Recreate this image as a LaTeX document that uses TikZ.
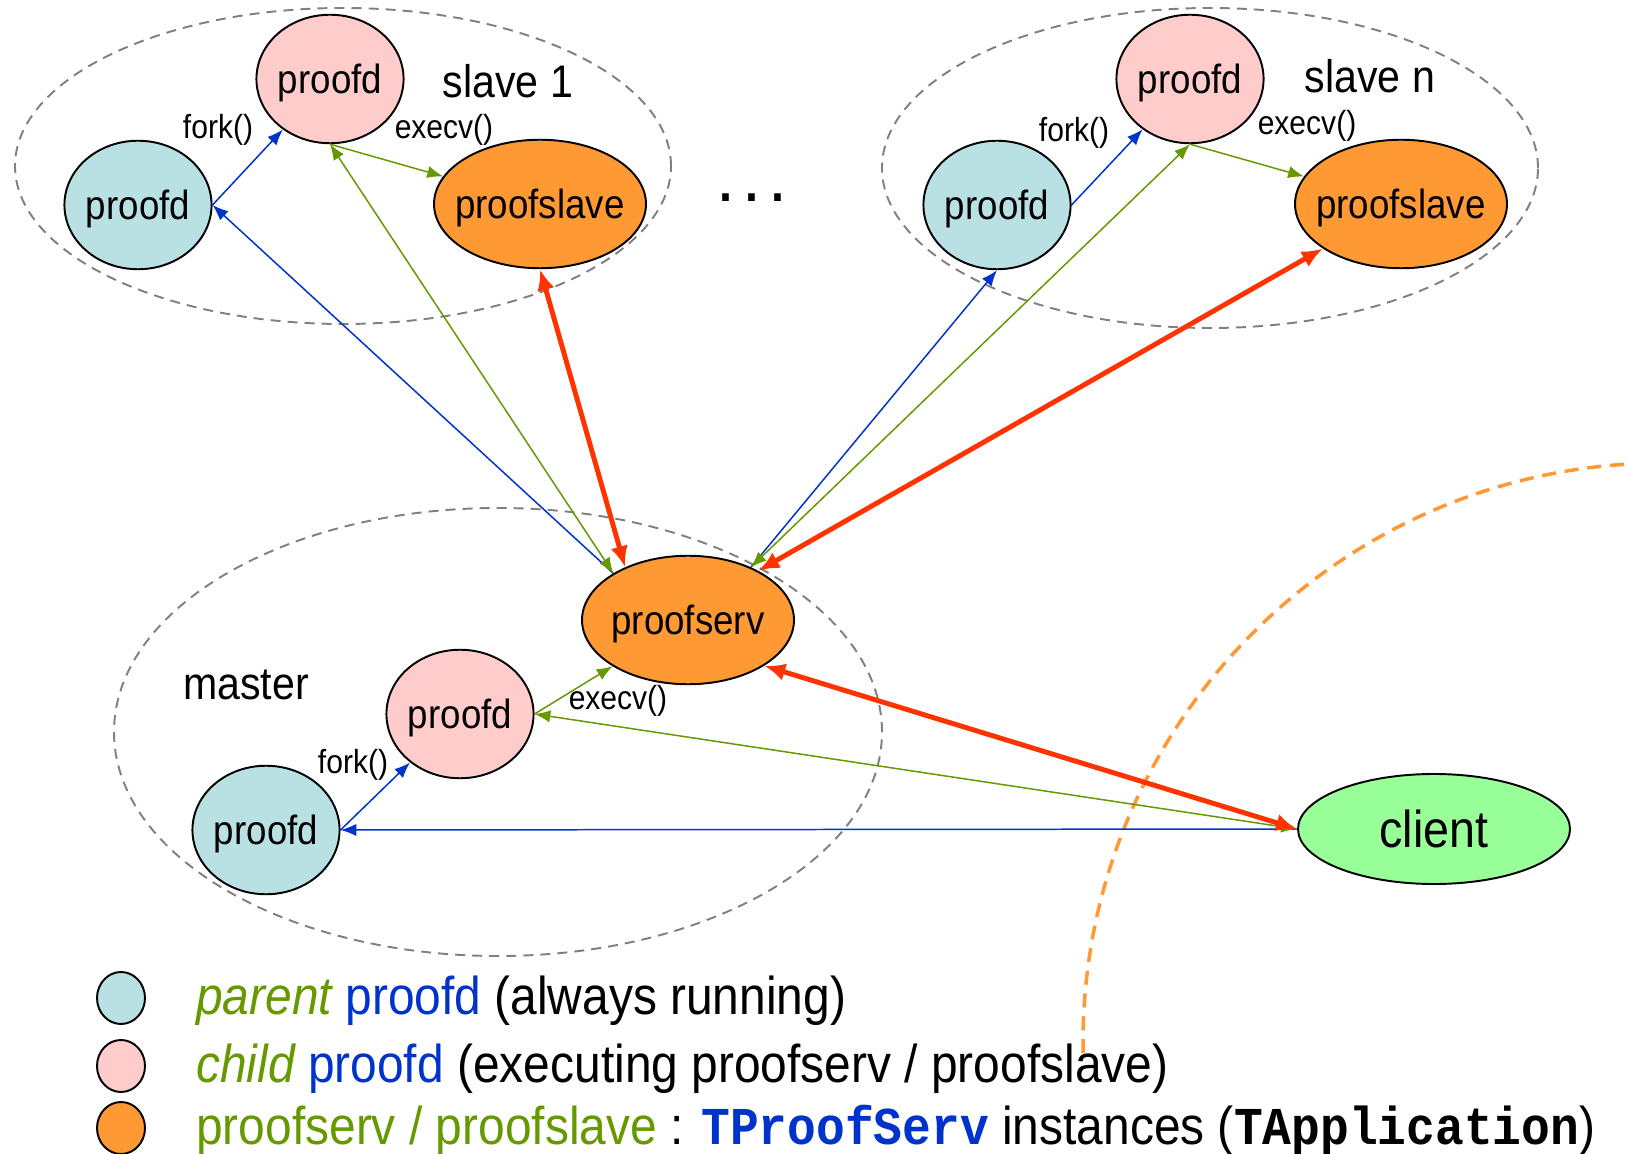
\documentclass[tikz,border=0pt]{standalone}
\usepackage{fontspec}
\setmainfont{Liberation Sans}[FakeStretch=0.9]
\setmonofont{Liberation Mono}[FakeStretch=0.9]
\usetikzlibrary{shapes.geometric, arrows.meta}

\definecolor{parentcol}{HTML}{B9E0E3}
\definecolor{childcol}{HTML}{FFCCCC}
\definecolor{servcol}{HTML}{FF9933}
\definecolor{clientcol}{HTML}{99FF99}
\definecolor{forkblue}{HTML}{0033CC}
\definecolor{execgreen}{HTML}{669900}
\definecolor{linkred}{HTML}{FF3300}

\begin{document}
\begin{tikzpicture}[
  proc/.style={ellipse, draw=black, line width=1.1pt, inner sep=0pt,
    minimum width=2.9cm, minimum height=2.57cm, text depth=0pt,
    font=\fontsize{23.2}{26}\selectfont},
  parentproc/.style={proc, fill=parentcol},
  childproc/.style={proc, fill=childcol},
  servproc/.style={proc, fill=servcol, inner xsep=-6pt, minimum width=4.24cm},
  group/.style={draw=gray, line width=1.1pt, dash pattern=on 5.7pt off 4pt},
  callname/.style={font=\fontsize{19}{22}\selectfont},
  tagname/.style={font=\fontsize{26}{30}\selectfont},
  forkline/.style={forkblue, line width=0.85pt, -{Latex[length=9pt,width=7pt]}},
  execline/.style={execgreen, line width=0.85pt, -{Latex[length=9pt,width=7pt]}},
  execboth/.style={execgreen, line width=0.85pt, {Latex[length=9pt,width=7pt]}-{Latex[length=9pt,width=7pt]}},
  redline/.style={linkred, line width=2.8pt, {Latex[length=12pt,width=10pt]}-{Latex[length=12pt,width=10pt]}},
  legtext/.style={anchor=west, font=\fontsize{30.3}{34}\selectfont},
  legdot/.style={ellipse, draw=black, line width=1.1pt, minimum width=0.96cm, minimum height=1.04cm}
]
\useasboundingbox (0,0) rectangle (32.54,23.06);

% ======================
% Client boundary
% ======================
\draw[servcol, line width=2pt, dash pattern=on 8pt off 5pt]
  (33.26,2.20) ++(181:11.6) arc (181:93.6:11.6);

% ======================
% Groups
% ======================
\draw[group] (6.86,19.74) ellipse [x radius=6.56, y radius=3.16];
\draw[group] (24.20,19.70) ellipse [x radius=6.56, y radius=3.20];
\draw[group] (9.96,8.42) ellipse [x radius=7.68, y radius=4.48];

% ======================
% Slave 1
% ======================
\node[childproc] (s1child) at (6.60,21.48) {proofd};
\node[parentproc] (s1parent) at (2.76,18.96) {proofd};
\node[servproc] (s1slave) at (10.80,18.98) {proofslave};
\node[tagname] (s1tag) at (10.16,21.44) {slave 1};
\node[callname] (s1fork) at (4.36,20.46) {fork()};
\node[callname] (s1exec) at (8.88,20.46) {execv()};

% ======================
% Slave n
% ======================
\node[childproc] (s2child) at (23.80,21.48) {proofd};
\node[parentproc] (s2parent) at (19.94,18.96) {proofd};
\node[servproc] (s2slave) at (28.02,18.98) {proofslave};
\node[tagname] (s2tag) at (27.40,21.54) {slave n};
\node[callname] (s2fork) at (21.48,20.40) {fork()};
\node[callname] (s2exec) at (26.14,20.54) {execv()};

\node[font=\fontsize{29.5}{32}\selectfont\bfseries] (dots) at (15.04,19.10) {.\ .\ .};

% ======================
% Master
% ======================
\node[servproc] (mserv) at (13.76,10.66) {proofserv};
\node[childproc] (mchild) at (9.20,8.78) {proofd};
\node[parentproc] (mparent) at (5.32,6.46) {proofd};
\node[tagname] (mtag) at (4.92,9.36) {master};
\node[callname] (mexec) at (12.36,9.04) {execv()};
\node[callname] (mfork) at (7.06,7.76) {fork()};

\node[proc, fill=clientcol, minimum width=5.44cm, minimum height=2.2cm,
  font=\fontsize{29.5}{32}\selectfont] (client) at (28.68,6.48) {client};

% ======================
% Inside the groups
% ======================
\draw[forkline] (s1parent.east) -- (s1child);
\draw[execline] (s1child.south) -- (s1slave);
\draw[forkline] (s2parent.east) -- (s2child);
\draw[execline] (s2child.south) -- (s2slave);
\draw[forkline] (mparent.east) -- (mchild);
\draw[execline] (mchild.east) -- (mserv);

% ======================
% Master to slaves
% ======================
\draw[forkline] (mserv.148) -- (s1parent.east);
\draw[execboth] (mserv.148) -- (s1child.south);
\draw[redline] (mserv.140) -- (s1slave.south);

\draw[forkline] (mserv.40) -- (s2parent.south);
\draw[execboth] (mserv.40) -- (s2child.south);
\draw[redline] (mserv.35) -- (s2slave);

% ======================
% Client to master
% ======================
\draw[forkline] (client.west) -- (mparent.east);
\draw[execboth] (client.west) -- (mchild.east);
\draw[redline] (client.west) -- (mserv.-31);

% ======================
% Legend
% ======================
\node[legdot, fill=parentcol] (legparent) at (2.42,3.10) {};
\node[legdot, fill=childcol] (legchild) at (2.42,1.74) {};
\node[legdot, fill=servcol] (legserv) at (2.42,0.50) {};

\node[legtext] (txtparent) at (3.80,3.04)
  {{\color{execgreen}\itshape parent} {\color{forkblue}proofd} (always running)};
\node[legtext] (txtchild) at (3.80,1.68)
  {{\color{execgreen}\itshape child} {\color{forkblue}proofd} (executing proofserv / proofslave)};
\node[legtext] (txtserv) at (3.80,0.46)
  {{\color{execgreen}proofserv / proofslave} : {\color{forkblue}\ttfamily\bfseries TProofServ} instances ({\ttfamily\bfseries TApplication})};

\end{tikzpicture}
\end{document}
